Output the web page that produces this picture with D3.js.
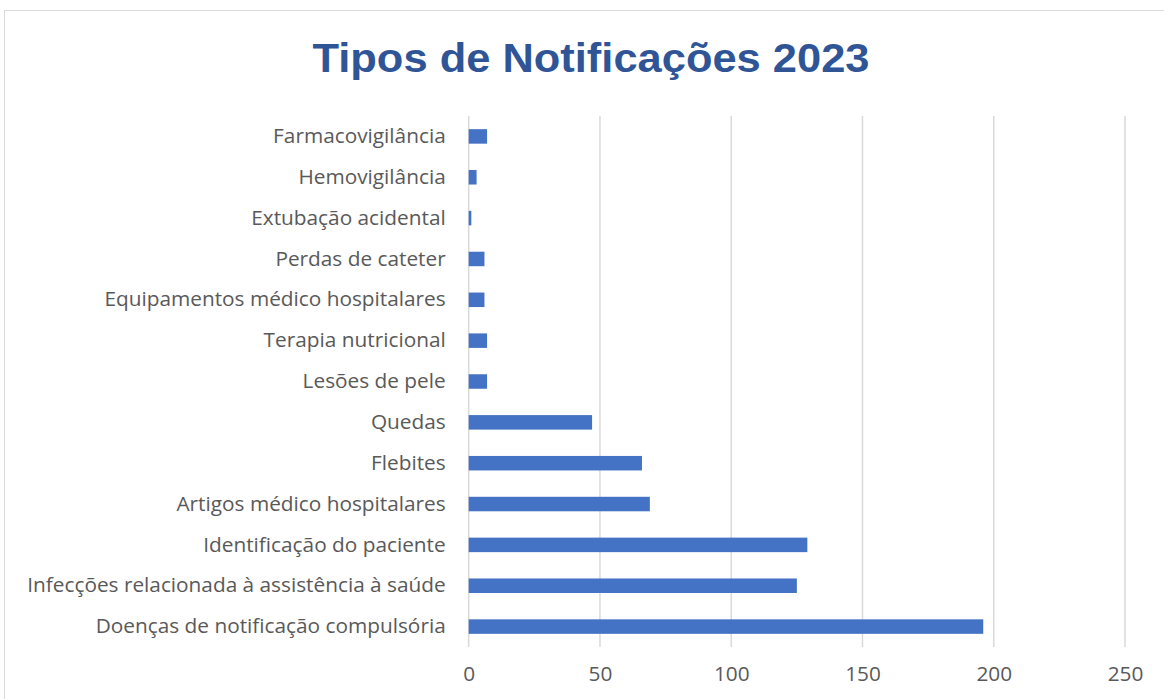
<!DOCTYPE html>
<html>
<head>
<meta charset="utf-8">
<script src="https://cdn.jsdelivr.net/npm/d3@7"></script>
<style>
  body { margin: 0; background: #fff; }
  svg { display: block; }
</style>
</head>
<body>
<div id="chart-area"></div>
<script>
const categories = [
  'Farmacovigilância',
  'Hemovigilância',
  'Extubação acidental',
  'Perdas de cateter',
  'Equipamentos médico hospitalares',
  'Terapia nutricional',
  'Lesões de pele',
  'Quedas',
  'Flebites',
  'Artigos médico hospitalares',
  'Identificação do paciente',
  'Infecções relacionada à assistência à saúde',
  'Doenças de notificação compulsória'
];
const values = [7, 3, 1, 6, 6, 7, 7, 47, 66, 69, 129, 125, 196];
const tickValues = [0, 50, 100, 150, 200, 250];
const title = 'Tipos de Notificações 2023';

const widthSvg = 1164;
const heightSvg = 699;
const plot = { left: 468.7, right: 1125, top: 116, bottom: 647 };
const labelFont = '"Open Sans", "Liberation Sans", sans-serif';

const svg = d3.select('#chart-area')
  .append('svg')
    .attr('width', widthSvg)
    .attr('height', heightSvg);

// outer chart border
svg.append('rect')
  .attr('x', 4.5)
  .attr('y', 10.5)
  .attr('width', 1200)
  .attr('height', 800)
  .attr('fill', '#fff')
  .attr('stroke', '#d9d9d9')
  .attr('stroke-width', 1);

svg.append('text')
  .attr('x', 591)
  .attr('y', 72)
  .attr('text-anchor', 'middle')
  .attr('font-family', 'Liberation Sans, Arial, sans-serif')
  .attr('font-weight', 'bold')
  .attr('font-size', '41px')
  .attr('fill', '#2F5597')
  .attr('textLength', 557)
  .attr('lengthAdjust', 'spacingAndGlyphs')
  .text(title);

const scaleX = d3.scaleLinear()
  .domain([0, 250])
  .range([plot.left, plot.right]);

const scaleY = d3.scaleBand()
  .domain(categories)
  .range([plot.top, plot.bottom])
  .paddingInner(0.645)
  .paddingOuter(0.3225);

// gridlines
svg.append('g')
  .selectAll('line')
  .data(tickValues)
  .join('line')
    .attr('x1', d => scaleX(d))
    .attr('x2', d => scaleX(d))
    .attr('y1', plot.top)
    .attr('y2', plot.bottom)
    .attr('stroke', '#d9d9d9')
    .attr('stroke-width', 1.5);

// bars
svg.append('g')
  .selectAll('rect')
  .data(values)
  .join('rect')
    .attr('x', scaleX(0))
    .attr('y', (d, i) => scaleY(categories[i]))
    .attr('width', d => scaleX(d) - scaleX(0))
    .attr('height', scaleY.bandwidth())
    .attr('fill', '#4472C4');

// category labels
const axisY = d3.axisLeft(scaleY).tickSize(0).tickPadding(23);
const gY = svg.append('g')
  .attr('transform', `translate(${plot.left}, 0)`)
  .call(axisY);
gY.select('.domain').remove();
gY.selectAll('text')
  .attr('font-family', labelFont)
  .attr('font-size', '20.8px')
  .attr('fill', '#595959');

// value axis
const axisX = d3.axisBottom(scaleX).tickValues(tickValues).tickSize(0).tickPadding(19);
const gX = svg.append('g')
  .attr('transform', `translate(0, ${plot.bottom})`)
  .call(axisX);
gX.select('.domain').remove();
gX.selectAll('text')
  .attr('font-family', labelFont)
  .attr('font-size', '20.8px')
  .attr('fill', '#595959');
</script>
</body>
</html>
